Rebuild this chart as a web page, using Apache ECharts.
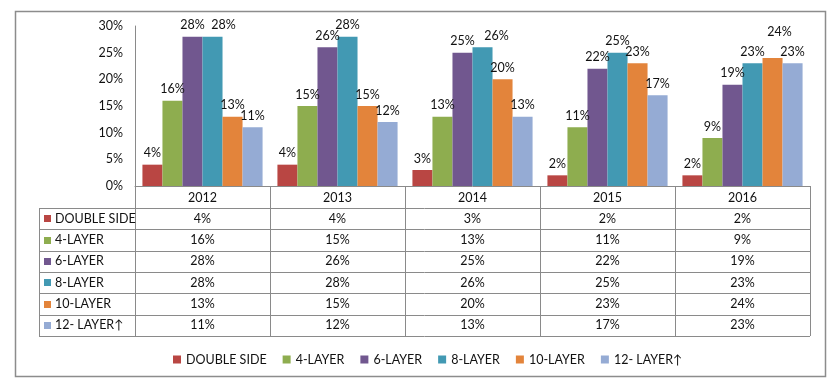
<!DOCTYPE html>
<html>
<head>
<meta charset="utf-8">
<script src="https://cdn.jsdelivr.net/npm/echarts@6/dist/echarts.min.js"></script>
<style>
html,body{margin:0;padding:0;background:#fff;}
#main{width:834px;height:380px;}
</style>
</head>
<body>
<div id="main"></div>
<script>
// ---- data ----
var categories = ['2012', '2013', '2014', '2015', '2016'];
var seriesNames = ['DOUBLE SIDE', '4-LAYER', '6-LAYER', '8-LAYER', '10-LAYER', '12- LAYER↑'];
var doubleSide = [4, 4, 3, 2, 2];
var layer4 = [16, 15, 13, 11, 9];
var layer6 = [28, 26, 25, 22, 19];
var layer8 = [28, 28, 26, 25, 23];
var layer10 = [13, 15, 20, 23, 24];
var layer12 = [11, 12, 13, 17, 23];
var yTicks = [0, 5, 10, 15, 20, 25, 30];

// ---- styling / layout ----
var seriesValues = [doubleSide, layer4, layer6, layer8, layer10, layer12];
var colors = ['#B94643', '#8EAD4F', '#71578F', '#4299B3', '#E3843B', '#95ABD4'];
var FONT = 'Lato';
var FS = 12.5;
var TXT = '#111';
var LINE = '#8a8a8a';
var gridL = 135, gridR = 810, gridT = 26, gridB = 186;
var W = 834, H = 380;
var tableLeft = 39, headerBottom = 208, rowH = (336 - 208) / 6;

// manual label nudges to mimic overlap avoidance in the original
function labelNudge(si, ci) {
  if (si === 3 && ci === 0) return [11, 0];
  if (si === 3 && ci === 2) return [14, 0];
  if (si === 4 && ci === 4) return [7, -15];
  return null;
}

var series = seriesNames.map(function (name, si) {
  return {
    name: name,
    type: 'bar',
    barGap: '0%',
    barCategoryGap: '11%',
    itemStyle: { color: colors[si] },
    label: {
      show: true, position: 'top', distance: 5,
      formatter: '{c}%', color: TXT, fontFamily: FONT, fontSize: FS
    },
    data: seriesValues[si].map(function (v, ci) {
      var n = labelNudge(si, ci);
      return n ? { value: v, label: { offset: n } } : v;
    })
  };
});

// ---- table graphics ----
var graphics = [];
graphics.push({ type: 'rect', shape: { x: 15.5, y: 11.5, width: 810, height: 365 },
  style: { fill: null, stroke: '#8c8c8c', lineWidth: 1.5 }, silent: true });
var colW = (gridR - gridL) / categories.length;
var tableBottom = headerBottom + rowH * seriesNames.length;
for (var r = 0; r <= seriesNames.length; r++) {
  var y = Math.round(headerBottom + r * rowH) + 0.5;
  graphics.push({ type: 'line', shape: { x1: tableLeft, y1: y, x2: gridR, y2: y },
    style: { stroke: LINE, lineWidth: 1 }, silent: true });
}
graphics.push({ type: 'line', shape: { x1: tableLeft + 0.5, y1: headerBottom, x2: tableLeft + 0.5, y2: tableBottom },
  style: { stroke: LINE, lineWidth: 1 }, silent: true });
for (var c = 0; c <= categories.length; c++) {
  var x = Math.round(gridL + c * colW) + 0.5;
  graphics.push({ type: 'line', shape: { x1: x, y1: gridB, x2: x, y2: tableBottom },
    style: { stroke: LINE, lineWidth: 1 }, silent: true });
}
seriesNames.forEach(function (name, si) {
  var cy = headerBottom + (si + 0.5) * rowH;
  graphics.push({ type: 'rect', shape: { x: 44, y: Math.round(cy - 3.5), width: 7, height: 7 },
    style: { fill: colors[si] }, silent: true });
  graphics.push({ type: 'text', x: 55, y: cy,
    style: { text: name, fill: TXT, font: FS + 'px ' + FONT, textVerticalAlign: 'middle', textAlign: 'left' }, silent: true });
  seriesValues[si].forEach(function (v, ci) {
    graphics.push({ type: 'text', x: gridL + (ci + 0.5) * colW, y: cy,
      style: { text: v + '%', fill: TXT, font: FS + 'px ' + FONT, textVerticalAlign: 'middle', textAlign: 'center' }, silent: true });
  });
});

var option = {
  animation: false,
  backgroundColor: '#fff',
  textStyle: { fontFamily: FONT },
  grid: { left: gridL, right: W - gridR, top: gridT, bottom: H - gridB, containLabel: false },
  legend: {
    data: seriesNames,
    top: 348, left: 168,
    itemWidth: 8, itemHeight: 8, itemGap: 16, icon: 'rect',
    textStyle: { fontFamily: FONT, fontSize: FS, color: TXT }
  },
  xAxis: {
    type: 'category',
    data: categories,
    axisLine: { show: true, lineStyle: { color: LINE, width: 1 } },
    axisTick: { show: false },
    axisLabel: { color: TXT, fontFamily: FONT, fontSize: FS, margin: 5 }
  },
  yAxis: {
    type: 'value',
    min: yTicks[0], max: yTicks[yTicks.length - 1], interval: yTicks[1] - yTicks[0],
    axisLine: { show: true, lineStyle: { color: LINE, width: 1 } },
    axisTick: { show: false },
    splitLine: { show: false },
    axisLabel: { formatter: '{value}%', color: TXT, fontFamily: FONT, fontSize: FS, margin: 12 }
  },
  graphic: graphics,
  series: series
};

var chart = echarts.init(document.getElementById('main'), null, { renderer: 'canvas' });
chart.setOption(option);
</script>
</body>
</html>
